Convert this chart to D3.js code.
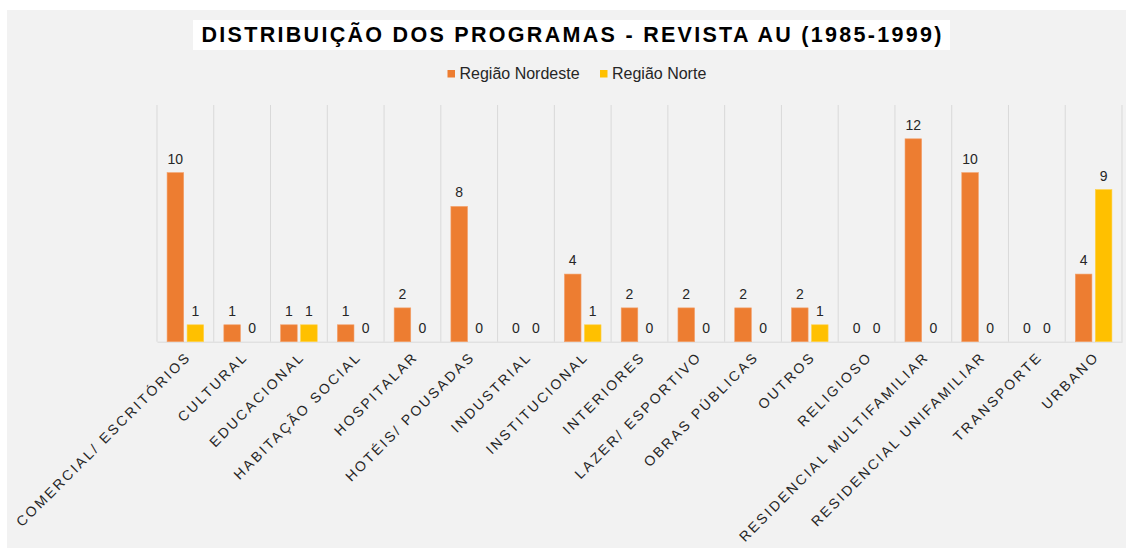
<!DOCTYPE html>
<html><head><meta charset="utf-8">
<script src="https://cdn.jsdelivr.net/npm/d3@7"></script>
<style>html,body{margin:0;padding:0;background:#fff;}</style>
</head><body>
<svg id="chart" width="1129" height="551"></svg>
<script>
const categories = ["COMERCIAL/ ESCRITÓRIOS","CULTURAL","EDUCACIONAL","HABITAÇÃO SOCIAL","HOSPITALAR","HOTÉIS/ POUSADAS","INDUSTRIAL","INSTITUCIONAL","INTERIORES","LAZER/ ESPORTIVO","OBRAS PÚBLICAS","OUTROS","RELIGIOSO","RESIDENCIAL MULTIFAMILIAR","RESIDENCIAL UNIFAMILIAR","TRANSPORTE","URBANO"];
const nordeste = [10,1,1,1,2,8,0,4,2,2,2,2,0,12,10,0,4];
const norte = [1,0,1,0,0,0,0,1,0,0,0,1,0,0,0,0,9];
const seriesNames = ["Região Nordeste","Região Norte"];
const seriesColors = ["#ED7D31","#FFC000"];
const title = "DISTRIBUIÇÃO DOS PROGRAMAS - REVISTA AU (1985-1999)";

const svg = d3.select("#chart");
svg.append("rect").attr("x",7).attr("y",10).attr("width",1119).attr("height",538).attr("fill","#f2f2f2");

const plot = {left:157, right:1122, top:105, bottom:341.7};
const x = d3.scaleBand().domain(categories).range([plot.left, plot.right]).paddingInner(0).paddingOuter(0);
const y = d3.scaleLinear().domain([0,14]).range([plot.bottom, plot.top]);
const x1 = d3.scaleBand().domain([0,1]).range([x.bandwidth()/2 - 18.3, x.bandwidth()/2 + 18.3]).paddingInner(0.17);

// gridlines (category separators)
const bounds = categories.map(c => x(c)).concat([plot.right]);
svg.append("g").selectAll("line").data(bounds).join("line")
  .attr("x1", d=>d).attr("x2", d=>d).attr("y1", plot.top).attr("y2", plot.bottom)
  .attr("stroke","#d9d9d9").attr("stroke-width",1);

// x axis
const xAxis = d3.axisBottom(x).tickSize(0).tickPadding(0);
const gx = svg.append("g").attr("transform",`translate(0,${plot.bottom})`).call(xAxis);
gx.select(".domain").attr("stroke","#d9d9d9");
gx.selectAll(".tick text")
  .attr("font-family","'Liberation Sans', Arial, sans-serif")
  .attr("font-size","14px").attr("fill","#262626")
  .style("letter-spacing","2.4px")
  .attr("text-anchor","end")
  .attr("dy",null).attr("y",null)
  .attr("transform","translate(6.5,16) rotate(-45)");

const series = [nordeste, norte];
series.forEach((vals, si) => {
  const g = svg.append("g");
  g.selectAll("rect").data(vals).join("rect")
    .attr("x",(d,i)=>x(categories[i]) + x1(si))
    .attr("width", x1.bandwidth())
    .attr("y", d=>y(d))
    .attr("height", d=>y(0)-y(d))
    .attr("fill", seriesColors[si])
    .attr("stroke", si===0 ? "#f3a06a" : "#ffd24d").attr("stroke-width",0.6);
  g.selectAll("text").data(vals).join("text")
    .attr("x",(d,i)=>x(categories[i]) + x1(si) + x1.bandwidth()/2)
    .attr("y", d=>y(d) - 9)
    .attr("text-anchor","middle")
    .attr("font-family","'Liberation Sans', Arial, sans-serif")
    .attr("font-size","14px").attr("fill","#262626")
    .text(d=>d);
});

// title
svg.append("rect").attr("x",193).attr("y",20).attr("width",757).attr("height",30).attr("fill","#ffffff");
svg.append("text").attr("x",201.5).attr("y",42)
  .attr("font-family","'Liberation Sans',Arial,sans-serif")
  .attr("font-weight","bold").attr("font-size","21.5px").attr("fill","#000")
  .attr("textLength",740).attr("lengthAdjust","spacing")
  .text(title);

// legend
const legendX = [447.5, 600];
seriesNames.forEach((n,i)=>{
  svg.append("rect").attr("x",legendX[i]).attr("y",70).attr("width",7.5).attr("height",7.5).attr("fill",seriesColors[i]);
  svg.append("text").attr("x",legendX[i]+12).attr("y",78.5)
    .attr("font-family","'Liberation Sans',Arial,sans-serif")
    .attr("font-size","16px").attr("fill","#262626")
    .text(n);
});
</script>
</body></html>
